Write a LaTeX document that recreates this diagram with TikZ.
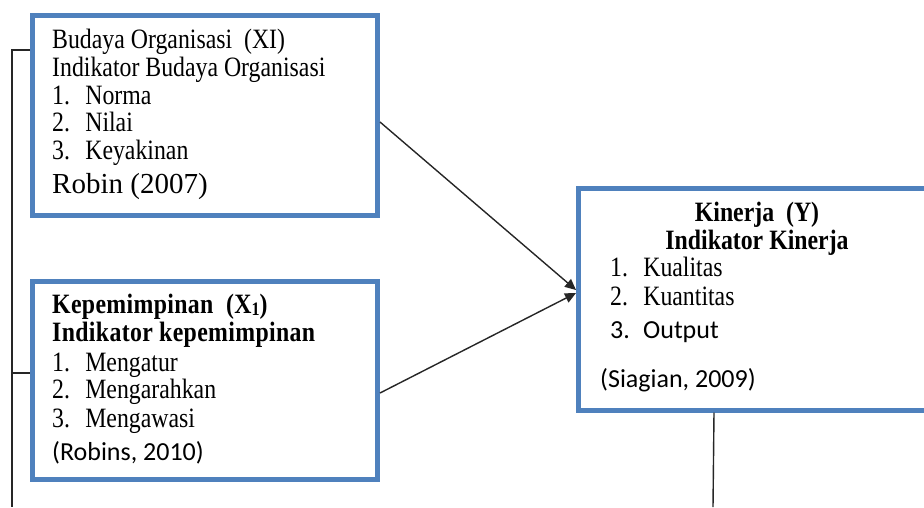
\documentclass[tikz,border=0pt]{standalone}
\usepackage{fontspec}
\setmainfont{Liberation Serif}
\newfontfamily\calib{Carlito}
\newfontfamily\spbold{Liberation Serif}[LetterSpace=1.5]
\usetikzlibrary{arrows.meta}
\definecolor{boxblue}{HTML}{4F81BD}
\newcommand{\sq}[1]{\scalebox{0.85}[1]{#1}}
\newcommand{\itm}[2]{\sq{\makebox[39pt][l]{#1}#2}}
\begin{document}
\begin{tikzpicture}[x=1pt,y=-1pt,
  box/.style={draw=boxblue, line width=5pt, fill=white, inner sep=0pt},
  ser/.style={anchor=base west, inner sep=0pt, font=\fontsize{28}{30}\selectfont},
  serc/.style={anchor=base, inner sep=0pt, font=\fontsize{28}{30}\selectfont\bfseries},
  cal/.style={anchor=base west, inner sep=0pt, font=\calib\fontsize{26}{30}\selectfont},
  conn/.style={line width=1.4pt, black!85},
  tip/.style={-{Triangle[length=11pt,width=10pt]}}]
\useasboundingbox (0,0) rectangle (924,507);
\clip (0,0) rectangle (924,507);
\fill[white] (0,0) rectangle (924,507);
% connectors
\coordinate (top) at (12,50);
\coordinate (bot) at (12,507);
\coordinate (s2) at (12,373);
\coordinate (y1) at (0,122);
\coordinate (y2) at (0,393);
\coordinate (t1) at (0,290);
\coordinate (t2) at (0,293);
\coordinate (vx) at (714,0);
\coordinate (vb) at (713,507);
% boxes
\node[box, minimum width=345pt, minimum height=200pt] (b1) at (205,115) {};
\node[box, minimum width=345pt, minimum height=198pt] (b2) at (205,380) {};
\node[box, minimum width=420pt, minimum height=222pt] (b3) at (788.5,299) {};
\draw[conn] (b1.west |- top) -- (top) -- (bot);
\draw[conn] (s2) -- (s2 -| b2.west);
\draw[conn,tip] (b1.east |- y1) -- (b3.west |- t1);
\draw[conn,tip] (b2.east |- y2) -- (b3.west |- t2);
\draw[conn] (b3.south -| vx) -- (vb);
% box 1 text
\node[ser] (a1) at (52,48) {\sq{Budaya Organisasi\ \ (XI)}};
\node[ser] (a2) at (52,76) {\sq{Indikator Budaya Organisasi}};
\node[ser] (a3) at (52,104) {\itm{1.}{Norma}};
\node[ser] (a4) at (52,131) {\itm{2.}{Nilai}};
\node[ser] (a5) at (52,159) {\itm{3.}{Keyakinan}};
\node[ser, font=\fontsize{29}{30}\selectfont] (a6) at (52,193) {Robin (2007)};
% box 2 text
\node[ser, font=\spbold\fontsize{28}{30}\selectfont\bfseries] (c1) at (52,313) {\sq{Kepemimpinan\ \ (X\raisebox{-0.2ex}{\fontsize{19}{20}\selectfont 1})}};
\node[ser, font=\spbold\fontsize{28}{30}\selectfont\bfseries] (c2) at (52,341) {\sq{Indikator kepemimpinan}};
\node[ser] (c3) at (52,371) {\itm{1.}{Mengatur}};
\node[ser] (c4) at (52,398) {\itm{2.}{Mengarahkan}};
\node[ser] (c5) at (52,427) {\itm{3.}{Mengawasi}};
\node[cal] (c6) at (52,460) {(Robins, 2010)};
% box 3 text
\node[serc] (d1) at (757,221) {\sq{Kinerja\ \ (Y)}};
\node[serc] (d2) at (757,249) {\sq{Indikator Kinerja}};
\node[ser] (d3) at (610,276) {\itm{1.}{Kualitas}};
\node[ser] (d4) at (610,305) {\itm{2.}{Kuantitas}};
\node[cal] (d5) at (610,338) {\makebox[33pt][l]{3.}Output};
\node[cal] (d6) at (600,387) {(Siagian, 2009)};
\end{tikzpicture}
\end{document}
